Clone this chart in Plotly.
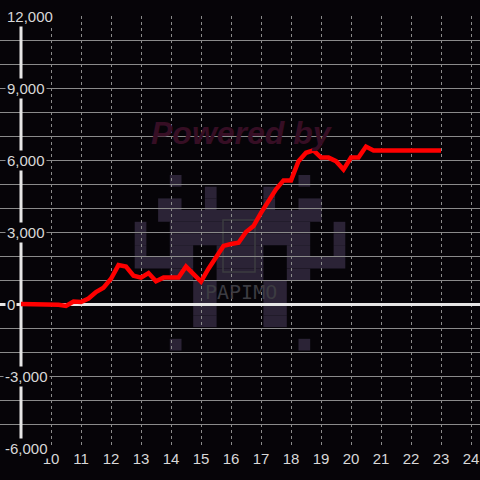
import plotly.graph_objects as go

# hour of day vs cumulative value
hours = [9.0, 9.25, 9.5, 9.75, 10.0, 10.25, 10.5, 10.75, 11.0, 11.25, 11.5, 11.75,
         12.0, 12.25, 12.5, 12.75, 13.0, 13.25, 13.5, 13.75, 14.0, 14.25, 14.5, 14.75,
         15.0, 15.25, 15.5, 15.75, 16.0, 16.25, 16.5, 16.75, 17.0, 17.25, 17.5, 17.75,
         18.0, 18.25, 18.5, 18.75, 19.0, 19.25, 19.5, 19.75, 20.0, 20.25, 20.5, 20.75,
         21.0, 21.25, 21.5, 21.75, 22.0, 22.25, 22.5, 22.75, 23.0]
values = [0, 0, 0, 0, 0, -30, -80, 100, 80, 230, 500, 680,
          1050, 1620, 1560, 1180, 1100, 1290, 950, 1100, 1100, 1100, 1560, 1250,
          930, 1470, 1950, 2420, 2500, 2550, 3000, 3250, 3800, 4300, 4780, 5150,
          5150, 5950, 6300, 6400, 6100, 6100, 5950, 5600, 6100, 6100, 6560, 6400,
          6400, 6400, 6400, 6400, 6400, 6400, 6400, 6400, 6400]

x_ticks = [10, 11, 12, 13, 14, 15, 16, 17, 18, 19, 20, 21, 22, 23, 24]
y_ticks = [12000, 9000, 6000, 3000, 0, -3000, -6000]
y_labels = ["12,000", "9,000", "6,000", "3,000", "0", "-3,000", "-6,000"]

BG = "#060408"
GRID = "#8a8a8a"
AXIS = "#e6e6e6"
TXT = "#d8d8d8"
W, H = 480, 480
ML, MR, MT, MB = 0, 0, 16, 32

fig = go.Figure()
fig.add_trace(go.Scatter(x=hours, y=values, mode="lines",
                         line=dict(color="#ff0000", width=4.5),
                         hoverinfo="skip", showlegend=False))

# watermark: pixel invader (left half, mirrored)
half = [
    "...#.....",
    "......#..",
    "..##..#..",
    "..#######",
    "#..######",
    "#..######",
    "#..##..##",
    "#####..##",
    "...##..##",
    ".....##..",
    ".....##..",
    ".....##..",
    ".....##..",
    ".........",
    "...#.....",
]
cell = 11.7
ox, oy = 240 - 9 * cell, 175
pw, ph = W - ML - MR, H - MT - MB


def px(xp):
    return (xp - ML) / pw


def py(yp):
    return (H - MB - yp) / ph


shapes = []
for r, row in enumerate(half):
    full = row + row[::-1]
    c = 0
    while c < len(full):
        if full[c] == "#":
            s = c
            while c < len(full) and full[c] == "#":
                c += 1
            shapes.append(dict(type="rect", xref="paper", yref="paper",
                               x0=px(ox + s * cell), x1=px(ox + c * cell),
                               y0=py(oy + (r + 1) * cell), y1=py(oy + r * cell),
                               fillcolor="#2b2336", line=dict(width=0), layer="below"))
        else:
            c += 1
shapes.append(dict(type="rect", xref="paper", yref="paper",
                   x0=px(223), x1=px(255), y0=py(272), y1=py(220),
                   line=dict(color="#3c3c40", width=1.5), layer="below"))

# y axis line at x=9
shapes.append(dict(type="line", xref="x", yref="y", x0=9, x1=9, y0=-6000, y1=12000,
                   line=dict(color=AXIS, width=3), layer="between"))

annotations = [
    dict(text="<b><i>Powered by</i></b>", x=px(242), y=py(133),
         xref="paper", yref="paper", xanchor="center", yanchor="middle", showarrow=False,
         font=dict(family="Liberation Sans", size=32, color="#360e24")),
    dict(text="PAPIMO", x=px(241), y=py(292),
         xref="paper", yref="paper", xanchor="center", yanchor="middle", showarrow=False,
         font=dict(family="DejaVu Sans Mono", size=20, color="#3c3c42")),
]
for v, lab in zip(y_ticks, y_labels):
    annotations.append(dict(text=lab, x=0, y=v, xref="paper", yref="y",
                            xanchor="left", yanchor="middle", xshift=3 if v < 0 else 5,
                            showarrow=False, bgcolor=BG, borderpad=1,
                            font=dict(family="Liberation Sans", size=15, color=TXT)))

fig.update_layout(
    width=W, height=H,
    margin=dict(l=ML, r=MR, t=MT, b=MB, autoexpand=False),
    paper_bgcolor=BG, plot_bgcolor=BG,
    shapes=shapes, annotations=annotations,
    showlegend=False,
)
fig.update_xaxes(range=[8.3, 24.3], tickvals=x_ticks, ticktext=[str(t) for t in x_ticks],
                 showgrid=True, gridcolor=GRID, gridwidth=1, griddash="3px,3px",
                 zeroline=False, showline=False, ticks="", automargin=False,
                 tickfont=dict(family="Liberation Sans", size=15, color=TXT))
fig.update_yaxes(range=[-6000, 12000], dtick=3000, showticklabels=False,
                 showgrid=True, gridcolor=GRID, gridwidth=1, automargin=False,
                 minor=dict(dtick=1000, showgrid=True, gridcolor=GRID, gridwidth=1),
                 zeroline=True, zerolinecolor=AXIS, zerolinewidth=3,
                 showline=False, ticks="")

fig.write_html("out.html", config={"displayModeBar": False},
               post_script="document.body.style.margin='0';"
                           "document.body.style.background='" + BG + "';")
